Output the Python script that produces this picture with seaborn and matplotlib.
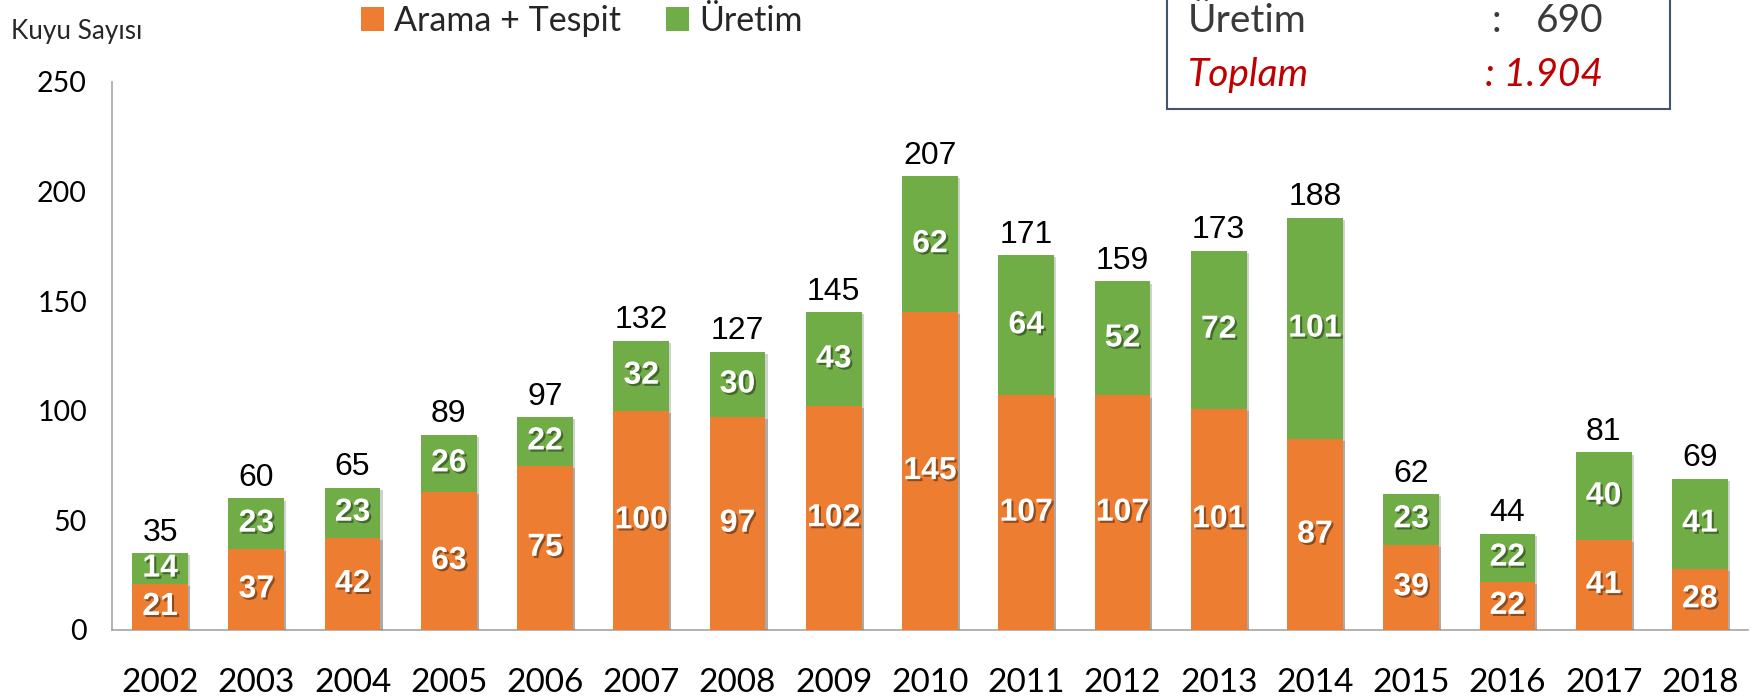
import matplotlib
matplotlib.use("Agg")
import matplotlib.pyplot as plt
import matplotlib.patheffects as pe
from matplotlib.patches import Rectangle, Patch
import seaborn as sns
import pandas as pd

years = ["2002", "2003", "2004", "2005", "2006", "2007", "2008", "2009", "2010",
         "2011", "2012", "2013", "2014", "2015", "2016", "2017", "2018"]
arama_tespit = [21, 37, 42, 63, 75, 100, 97, 102, 145, 107, 107, 101, 87, 39, 22, 41, 28]
uretim = [14, 23, 23, 26, 22, 32, 30, 43, 62, 64, 52, 72, 101, 23, 22, 40, 41]
totals = [a + u for a, u in zip(arama_tespit, uretim)]
yticks = [0, 50, 100, 150, 200, 250]

ORANGE = "#ED7D31"
GREEN = "#70AD47"

df = pd.DataFrame({"year": years, "arama": arama_tespit, "uretim": uretim, "total": totals})

sns.set_theme(style="white")
plt.rcParams["font.family"] = ["Lato", "DejaVu Sans"]

fig = plt.figure(figsize=(17.6, 6.98), dpi=100)
ax = fig.add_axes([112 / 1760, 1 - 630 / 698, (1748 - 112) / 1760, (630 - 82) / 698])

bar_fx = [pe.withSimplePatchShadow(offset=(1.5, -1.5), shadow_rgbFace="black", alpha=0.18)]
sns.barplot(data=df, x="year", y="total", color=GREEN, width=0.58, saturation=1,
            ax=ax, zorder=2)
sns.barplot(data=df, x="year", y="arama", color=ORANGE, width=0.58, saturation=1,
            ax=ax, zorder=3)
for p in ax.patches:
    p.set_path_effects(bar_fx)
    p.set_linewidth(0)

txt_fx = [pe.withSimplePatchShadow(offset=(1.5, -1.5), shadow_rgbFace="black", alpha=0.4)]
for i, (a, u, t) in enumerate(zip(arama_tespit, uretim, totals)):
    ax.text(i, a / 2, str(a), ha="center", va="center", color="white",
            fontsize=23, fontweight="bold", family="Liberation Sans", path_effects=txt_fx, zorder=5)
    ax.text(i, a + u / 2, str(u), ha="center", va="center", color="white",
            fontsize=23, fontweight="bold", family="Liberation Sans", path_effects=txt_fx, zorder=5)
    ax.text(i, t + 2.5, str(t), ha="center", va="bottom", color="black",
            fontsize=23, family="Liberation Sans", zorder=5)

ax.set_xlim(-0.5, len(years) - 0.5)
ax.set_ylim(0, 250)
ax.set_yticks(yticks)
ax.set_xlabel("")
ax.set_ylabel("")
ax.tick_params(axis="x", length=0, pad=27, labelsize=24)
ax.tick_params(axis="y", length=0, pad=18, labelsize=20.5)
for lab in ax.get_xticklabels() + ax.get_yticklabels():
    lab.set_color("black")
ax.grid(False)
for s in ["top", "right"]:
    ax.spines[s].set_visible(False)
for s in ["left", "bottom"]:
    ax.spines[s].set_color("#A6A6A6")
    ax.spines[s].set_linewidth(1.2)

fig.text(11 / 1760, 1 - 31 / 698, "Kuyu Sayısı", fontsize=18.8, ha="left", va="center")

handles = [Patch(facecolor=ORANGE, edgecolor="none"), Patch(facecolor=GREEN, edgecolor="none")]
fig.legend(handles, ["Arama + Tespit", "Üretim"], loc="center left",
           bbox_to_anchor=(361 / 1760, 1 - 21 / 698), ncol=2, frameon=False,
           fontsize=24.5, handlelength=0.68, handleheight=0.68, handletextpad=0.3,
           columnspacing=1.3, borderaxespad=0, borderpad=0)

# info box (top part cropped by figure edge)
box = Rectangle((1167 / 1760, 1 - 109 / 698), (1670 - 1167) / 1760, 0.5,
                transform=fig.transFigure, facecolor="white", edgecolor="#44546A",
                linewidth=1.5, zorder=10)
fig.add_artist(box)
fig.text(1188 / 1760, 1 - 21 / 698, "Üretim", fontsize=28, color="#3A3A3A",
         ha="left", va="center", zorder=11)
fig.text(1492 / 1760, 1 - 21 / 698, ":", fontsize=28, color="#3A3A3A",
         ha="left", va="center", zorder=11)
fig.text(1603 / 1760, 1 - 21 / 698, "690", fontsize=28, color="#3A3A3A",
         ha="right", va="center", zorder=11)
fig.text(1188 / 1760, 1 - 75 / 698, "Toplam", fontsize=28, color="#C00000",
         style="italic", ha="left", va="center", zorder=11)
fig.text(1603 / 1760, 1 - 75 / 698, ": 1.904", fontsize=28, color="#C00000",
         style="italic", ha="right", va="center", zorder=11)

fig.savefig("out.png", dpi=100)
